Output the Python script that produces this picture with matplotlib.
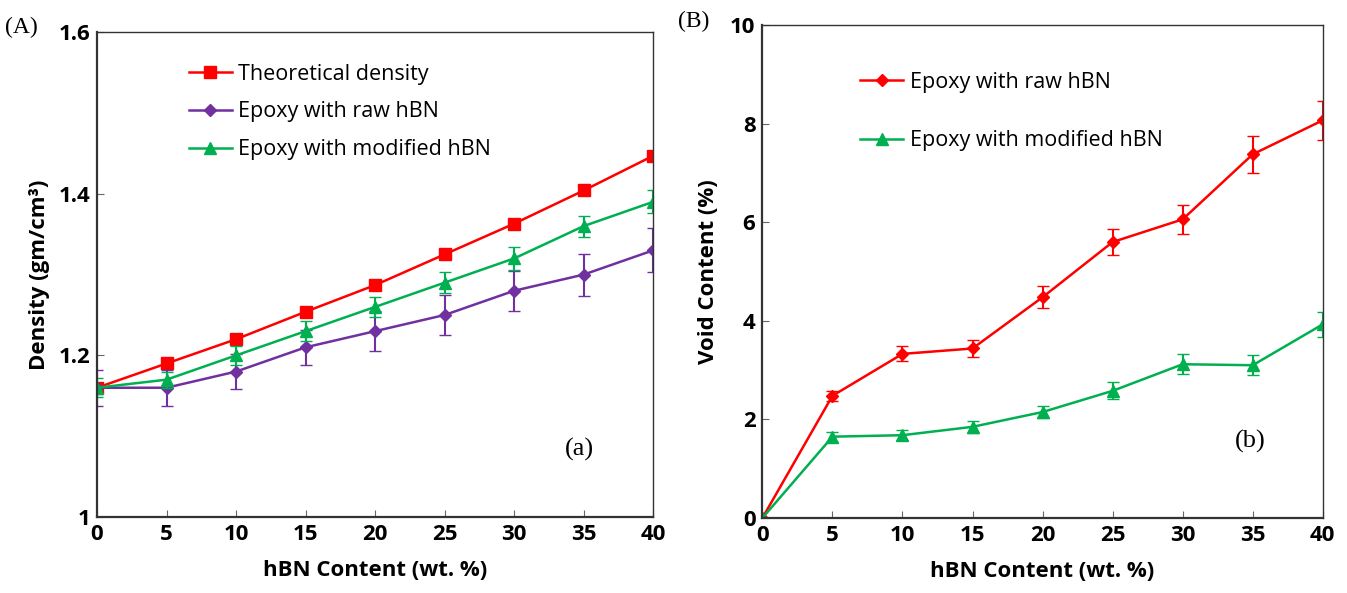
import matplotlib
matplotlib.use("Agg")
import matplotlib.pyplot as plt

plt.rcParams["font.family"] = ["Open Sans", "DejaVu Sans"]

# hBN loading (wt. %)
hbn = [0, 5, 10, 15, 20, 25, 30, 35, 40]

# panel (a): density, gm/cm3
dens_theory = [1.160, 1.190, 1.220, 1.254, 1.287, 1.325, 1.363, 1.404, 1.447]
dens_raw = [1.160, 1.160, 1.180, 1.210, 1.230, 1.250, 1.280, 1.300, 1.330]
dens_raw_err = [0.022, 0.022, 0.022, 0.022, 0.025, 0.025, 0.025, 0.026, 0.027]
dens_mod = [1.160, 1.170, 1.200, 1.230, 1.260, 1.290, 1.320, 1.360, 1.390]
dens_mod_err = [0.012, 0.010, 0.012, 0.012, 0.012, 0.013, 0.014, 0.013, 0.014]
dens_ticks = [1.0, 1.2, 1.4, 1.6]
dens_ticklabels = ["1", "1.2", "1.4", "1.6"]

# panel (b): void content, %
void_raw = [0.0, 2.48, 3.33, 3.44, 4.48, 5.60, 6.06, 7.38, 8.07]
void_raw_err = [0.0, 0.10, 0.15, 0.17, 0.22, 0.27, 0.30, 0.37, 0.40]
void_mod = [0.0, 1.65, 1.68, 1.85, 2.15, 2.58, 3.12, 3.10, 3.93]
void_mod_err = [0.0, 0.10, 0.10, 0.12, 0.13, 0.17, 0.20, 0.20, 0.25]
void_ticks = [0, 2, 4, 6, 8, 10]

RED = "#ff0000"
PURPLE = "#7030a0"
GREEN = "#00b050"

fig = plt.figure(figsize=(13.47, 5.93), dpi=100)
axA = fig.add_axes([0.072, 0.128, 0.413, 0.818])
axB = fig.add_axes([0.566, 0.1265, 0.416, 0.831])


def style_axes(ax, yticks, ylabels):
	for side, sp in ax.spines.items():
		sp.set_color("#333333")
		sp.set_linewidth(1.6 if side in ("left", "bottom") else 1.0)
	ax.set_xticks(hbn, [str(v) for v in hbn], fontweight="bold")
	ax.set_yticks(yticks, ylabels, fontweight="bold")
	ax.tick_params(direction="in", length=5, width=0.8, colors="#666666",
			labelcolor="black", labelsize=16, pad=5)
	ax.set_xlabel("hBN Content (wt. %)", fontsize=16, fontweight="bold", labelpad=11)


def series(ax, y, err, color, marker, ms, label):
	if err is not None:
		ax.errorbar(hbn, y, yerr=err, fmt="none", ecolor=color, capsize=4, elinewidth=1.5)
	ax.plot(hbn, y, color=color, marker=marker, ms=ms, lw=1.8, label=label)


# ---- panel A
series(axA, dens_theory, None, RED, "s", 8, "Theoretical density")
series(axA, dens_raw, dens_raw_err, PURPLE, "D", 6, "Epoxy with raw hBN")
series(axA, dens_mod, dens_mod_err, GREEN, "^", 8, "Epoxy with modified hBN")
axA.set_xlim(0, 40)
axA.set_ylim(1.0, 1.6)
style_axes(axA, dens_ticks, dens_ticklabels)
axA.set_ylabel("Density (gm/cm³)", fontsize=16, fontweight="bold", labelpad=6)
axA.legend(loc="upper left", bbox_to_anchor=(0.13, 0.975), frameon=False, fontsize=15.5,
		handlelength=2.0, handletextpad=0.3, labelspacing=0.78)
axA.text(0.868, 0.14, "(a)", transform=axA.transAxes, fontsize=19,
		family="Liberation Serif", ha="center", va="center")

# ---- panel B
series(axB, void_raw, void_raw_err, RED, "D", 6, "Epoxy with raw hBN")
series(axB, void_mod, void_mod_err, GREEN, "^", 8, "Epoxy with modified hBN")
axB.set_xlim(0, 40)
axB.set_ylim(0, 10)
style_axes(axB, void_ticks, [str(v) for v in void_ticks])
axB.set_ylabel("Void Content (%)", fontsize=16, fontweight="bold", labelpad=8)
axB.legend(loc="upper left", bbox_to_anchor=(0.14, 0.945), frameon=False, fontsize=15.5,
		handlelength=2.0, handletextpad=0.3, labelspacing=1.75)
axB.text(0.87, 0.155, "(b)", transform=axB.transAxes, fontsize=19,
		family="Liberation Serif", ha="center", va="center")

# panel letters
fig.text(0.004, 0.953, "(A)", fontsize=17, family="Liberation Serif", ha="left", va="center")
fig.text(0.503, 0.963, "(B)", fontsize=17, family="Liberation Serif", ha="left", va="center")

fig.savefig("out.png", dpi=100, facecolor="white")
